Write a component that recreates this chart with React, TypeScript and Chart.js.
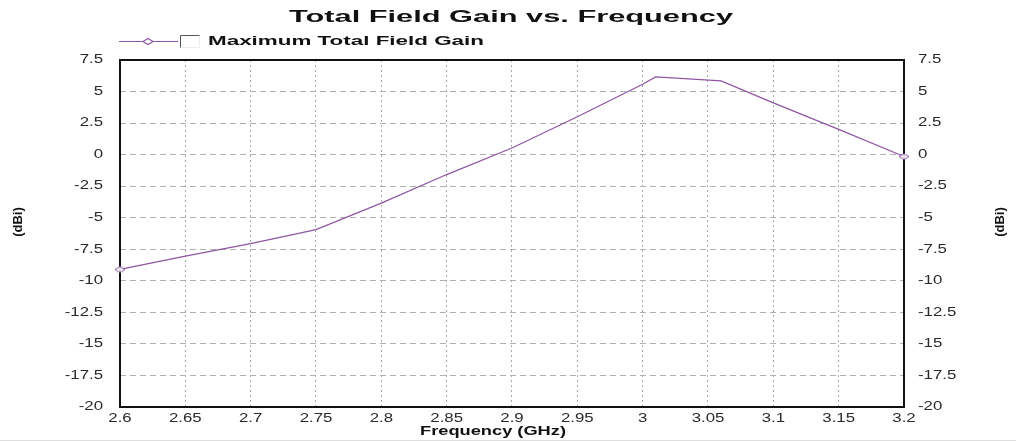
import React, { useEffect, useRef } from "react";
import { Chart, registerables } from "chart.js";

Chart.register(...registerables);

// ---- data ----
const frequencies = [2.6, 2.65, 2.7, 2.75, 2.8, 2.85, 2.9, 2.95, 3.0, 3.01, 3.06, 3.1, 3.15, 3.2];
const gainValues = [-9.1, -8.05, -7.05, -5.94, -3.84, -1.58, 0.53, 3.0, 5.58, 6.16, 5.84, 4.1, 2.0, -0.15];
const xTickValues = [2.6, 2.65, 2.7, 2.75, 2.8, 2.85, 2.9, 2.95, 3, 3.05, 3.1, 3.15, 3.2];
const yTickValues = [-20, -17.5, -15, -12.5, -10, -7.5, -5, -2.5, 0, 2.5, 5, 7.5];
const titleText = "Total Field Gain vs. Frequency";
const seriesLabel = "Maximum Total Field Gain";
const xAxisTitle = "Frequency (GHz)";
const yAxisTitle = "(dBi)";

const LINE_COLOR = "#8f55a2";
const TEXT_FONT = "'Liberation Sans', Arial, sans-serif";
const TICK_STRETCH = 1.4;

function makeDiamond(): HTMLCanvasElement {
  const c = document.createElement("canvas");
  c.width = 12;
  c.height = 8;
  const g = c.getContext("2d")!;
  g.beginPath();
  g.moveTo(1, 4);
  g.lineTo(6, 1);
  g.lineTo(11, 4);
  g.lineTo(6, 7);
  g.closePath();
  g.fillStyle = "rgba(255,255,255,0.85)";
  g.fill();
  g.strokeStyle = LINE_COLOR;
  g.lineWidth = 1;
  g.stroke();
  return c;
}

function drawText(
  ctx: CanvasRenderingContext2D,
  text: string,
  x: number,
  y: number,
  font: string,
  targetWidth: number | null,
  align: CanvasTextAlign,
  rotate = 0,
  stretch = 1,
  color = "#111"
) {
  ctx.save();
  ctx.font = font;
  const w = ctx.measureText(text).width;
  const sx = targetWidth ? targetWidth / w : stretch;
  ctx.translate(x, y);
  if (rotate) ctx.rotate(rotate);
  ctx.scale(sx, 1);
  ctx.textAlign = align;
  ctx.textBaseline = "middle";
  ctx.fillStyle = color;
  ctx.fillText(text, 0, 0);
  ctx.restore();
}

const decorPlugin = {
  id: "decor",
  beforeDraw(chart: any) {
    const ctx = chart.ctx as CanvasRenderingContext2D;
    ctx.save();
    ctx.fillStyle = "#ffffff";
    ctx.fillRect(0, 0, chart.width, chart.height);
    ctx.restore();
  },
  beforeDatasetsDraw(chart: any) {
    const ctx = chart.ctx as CanvasRenderingContext2D;
    const a = chart.chartArea;
    ctx.save();
    ctx.strokeStyle = "#111";
    ctx.lineWidth = 2;
    ctx.strokeRect(a.left, a.top, a.right - a.left, a.bottom - a.top);
    ctx.restore();
  },
  afterDraw(chart: any) {
    const ctx = chart.ctx as CanvasRenderingContext2D;
    const a = chart.chartArea;
    const tickFont = `12px ${TEXT_FONT}`;
    // tick labels, positioned through the chart's scales
    const yS = chart.scales.y;
    const y2S = chart.scales.y2;
    const xS = chart.scales.x;
    yTickValues.forEach((v) => {
      drawText(ctx, String(v), a.left - 17, yS.getPixelForValue(v), tickFont, null, "right", 0, TICK_STRETCH, "#2a2a2a");
      drawText(ctx, String(v), a.right + 14, y2S.getPixelForValue(v), tickFont, null, "left", 0, TICK_STRETCH, "#2a2a2a");
    });
    xTickValues.forEach((v) => {
      drawText(ctx, String(v), xS.getPixelForValue(v), a.bottom + 12, tickFont, null, "center", 0, TICK_STRETCH, "#2a2a2a");
    });
    // title
    drawText(ctx, titleText, 511, 18, `bold 16px ${TEXT_FONT}`, 444, "center");
    // legend
    ctx.save();
    ctx.strokeStyle = LINE_COLOR;
    ctx.lineWidth = 1.2;
    ctx.beginPath();
    ctx.moveTo(119, 41.5);
    ctx.lineTo(178, 41.5);
    ctx.stroke();
    ctx.beginPath();
    ctx.moveTo(143, 41.5);
    ctx.lineTo(148, 38.5);
    ctx.lineTo(153, 41.5);
    ctx.lineTo(148, 44.5);
    ctx.closePath();
    ctx.fillStyle = "#fff";
    ctx.fill();
    ctx.stroke();
    // checkbox
    ctx.lineWidth = 1;
    ctx.strokeStyle = "#ececec";
    ctx.beginPath();
    ctx.moveTo(199.5, 35.5);
    ctx.lineTo(199.5, 47.5);
    ctx.lineTo(180.5, 47.5);
    ctx.stroke();
    ctx.strokeStyle = "#555";
    ctx.beginPath();
    ctx.moveTo(180.5, 47.5);
    ctx.lineTo(180.5, 35.5);
    ctx.lineTo(199.5, 35.5);
    ctx.stroke();
    ctx.restore();
    drawText(ctx, seriesLabel, 208, 41, `bold 13px ${TEXT_FONT}`, 276, "left");
    // axis titles
    drawText(ctx, xAxisTitle, 493, 432, `bold 12px ${TEXT_FONT}`, 146, "center");
    drawText(ctx, yAxisTitle, 18, 222, `bold 13px ${TEXT_FONT}`, null, "center", -Math.PI / 2);
    drawText(ctx, yAxisTitle, 1000, 222, `bold 13px ${TEXT_FONT}`, null, "center", -Math.PI / 2);
    // faint bottom border line
    ctx.save();
    ctx.strokeStyle = "#dddddd";
    ctx.lineWidth = 1;
    ctx.beginPath();
    ctx.moveTo(0, 440.5);
    ctx.lineTo(chart.width, 440.5);
    ctx.stroke();
    ctx.restore();
  },
};

export default function App() {
  const ref = useRef<HTMLCanvasElement>(null);

  useEffect(() => {
    const canvas = ref.current!;
    const diamond = makeDiamond();
    const last = frequencies.length - 1;

    const chart = new Chart(canvas, {
      type: "line",
      data: {
        datasets: [
          {
            label: seriesLabel,
            data: frequencies.map((f, i) => ({ x: f, y: gainValues[i] })),
            borderColor: LINE_COLOR,
            borderWidth: 1.2,
            tension: 0,
            fill: false,
            clip: false as any,
            pointStyle: diamond as any,
            pointRadius: (c: any) => (c.dataIndex === 0 || c.dataIndex === last ? 5 : 0),
            pointHoverRadius: 0,
          },
        ],
      },
      options: {
        responsive: false,
        devicePixelRatio: 1,
        animation: false,
        events: [],
        layout: { padding: { top: 60, left: 0, right: 0, bottom: 0 } },
        plugins: {
          legend: { display: false },
          title: { display: false },
          tooltip: { enabled: false },
        },
        scales: {
          x: {
            type: "linear",
            min: 2.6,
            max: 3.2,
            afterBuildTicks: (s: any) => {
              s.ticks = xTickValues.map((v) => ({ value: v }));
            },
            afterFit: (s: any) => {
              s.height = 35;
            },
            grid: { color: "#a9a9a9", lineWidth: 1, drawTicks: false },
            border: { display: false, dash: [2, 3] },
            ticks: { display: false },
          },
          y: {
            type: "linear",
            position: "left",
            min: -20,
            max: 7.5,
            afterBuildTicks: (s: any) => {
              s.ticks = yTickValues.map((v) => ({ value: v }));
            },
            afterFit: (s: any) => {
              s.width = 120;
            },
            grid: { color: "#b0b0b0", lineWidth: 1, drawTicks: false },
            border: { display: false, dash: [6, 4] },
            ticks: { display: false },
          },
          y2: {
            type: "linear",
            position: "right",
            min: -20,
            max: 7.5,
            afterBuildTicks: (s: any) => {
              s.ticks = yTickValues.map((v) => ({ value: v }));
            },
            afterFit: (s: any) => {
              s.width = 112;
            },
            grid: { display: false, drawTicks: false },
            border: { display: false },
            ticks: { display: false },
          },
        },
      },
      plugins: [decorPlugin],
    });

    return () => chart.destroy();
  }, []);

  return (
    <div style={{ position: "fixed", left: 0, top: 0, width: 1016, height: 442, background: "#fff" }}>
      <canvas ref={ref} width={1016} height={442} style={{ display: "block", width: 1016, height: 442 }} />
    </div>
  );
}
